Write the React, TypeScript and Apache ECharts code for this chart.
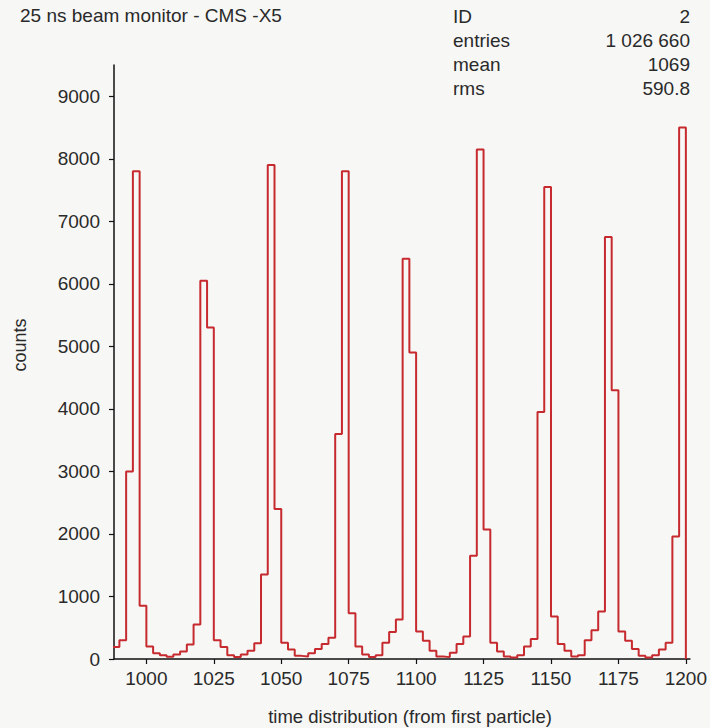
import React, { useEffect, useRef } from "react";
import * as echarts from "echarts";

// Histogram: bin start, bin width and counts per bin
const BIN_START = 987.5;
const BIN_WIDTH = 2.5;
const counts = [
  190, 300, 3000, 7800, 850, 200, 90, 60, 35, 70,
  120, 230, 550, 6050, 5300, 300, 190, 60, 30, 70,
  130, 250, 1350, 7900, 2400, 260, 150, 50, 40, 90,
  160, 240, 340, 3600, 7800, 730, 200, 70, 30, 60,
  260, 430, 630, 6400, 4900, 440, 290, 130, 40, 30,
  100, 240, 360, 1650, 8150, 2070, 260, 120, 40, 25,
  60, 200, 320, 3950, 7550, 680, 240, 130, 40, 60,
  300, 460, 760, 6750, 4300, 440, 290, 160, 50, 25,
  60, 150, 260, 1960, 8500,
];

const xTicks = [1000, 1025, 1050, 1075, 1100, 1125, 1150, 1175, 1200];
const yTicks = [0, 1000, 2000, 3000, 4000, 5000, 6000, 7000, 8000, 9000];

const titleText = "25 ns beam monitor - CMS -X5";
const statNames = ["ID", "entries", "mean", "rms"];
const statValues = ["2", "1 026 660", "1069", "590.8"];
const xName = "time distribution (from first particle)";
const yName = "counts";

const FONT = "'Liberation Sans', Arial, sans-serif";
const TEXT = "#2a2a2a";

export default function App() {
  const ref = useRef<HTMLDivElement>(null);
  useEffect(() => {
    if (!ref.current) return;
    const chart = echarts.init(ref.current, null, { renderer: "svg" });

    const data: [number, number][] = counts.map((c, i) => [BIN_START + i * BIN_WIDTH, c]);
    const lastEdge = BIN_START + counts.length * BIN_WIDTH;
    data.push([lastEdge, counts[counts.length - 1]]);
    data.push([lastEdge, 0]);

    const graphics: any[] = [
      {
        type: "text",
        left: 20,
        top: 6,
        style: { text: titleText, font: `19px ${FONT}`, fill: TEXT },
      },
      {
        type: "text",
        x: 410,
        y: 716,
        style: { text: xName, font: `18.5px ${FONT}`, fill: TEXT, align: "center", verticalAlign: "middle" },
      },
      {
        type: "text",
        x: 20,
        y: 345,
        rotation: Math.PI / 2,
        style: { text: yName, font: `18px ${FONT}`, fill: TEXT, align: "center", verticalAlign: "middle" },
      },
    ];
    statNames.forEach((n, i) => {
      graphics.push({
        type: "text",
        x: 453,
        y: 16 + i * 24,
        style: { text: n, font: `19px ${FONT}`, fill: TEXT, align: "left", verticalAlign: "middle" },
      });
      graphics.push({
        type: "text",
        x: 690,
        y: 16 + i * 24,
        style: { text: statValues[i], font: `19px ${FONT}`, fill: TEXT, align: "right", verticalAlign: "middle" },
      });
    });

    chart.setOption({
      animation: false,
      backgroundColor: "#f7f7f5",
      grid: { left: 114, right: 18, top: 65, bottom: 69 },
      xAxis: {
        type: "value",
        min: 988,
        max: 1201.5,
        axisLine: { show: true, onZero: false, lineStyle: { color: "#111", width: 1.5 } },
        axisTick: { show: true, length: 5, customValues: xTicks, lineStyle: { color: "#111", width: 1.2 } },
        axisLabel: {
          customValues: xTicks,
          margin: 10,
          color: TEXT,
          fontSize: 19,
          fontFamily: FONT,
          formatter: (v: number) => String(v),
        },
        splitLine: { show: false },
      },
      yAxis: {
        type: "value",
        min: 0,
        max: 9500,
        axisLine: { show: true, onZero: false, lineStyle: { color: "#111", width: 1.5 } },
        axisTick: { show: true, length: 5, customValues: yTicks, lineStyle: { color: "#111", width: 1.2 } },
        axisLabel: {
          customValues: yTicks,
          margin: 14,
          color: TEXT,
          fontSize: 19,
          fontFamily: FONT,
          formatter: (v: number) => String(v),
        },
        splitLine: { show: false },
      },
      series: [
        {
          type: "line",
          step: "end",
          data,
          symbol: "none",
          lineStyle: { color: "#c62a2f", width: 2 },
          clip: true,
        },
      ],
      graphic: graphics,
    });
    return () => chart.dispose();
  }, []);
  return <div ref={ref} style={{ position: "absolute", left: 0, top: 0, width: 710, height: 728 }} />;
}
